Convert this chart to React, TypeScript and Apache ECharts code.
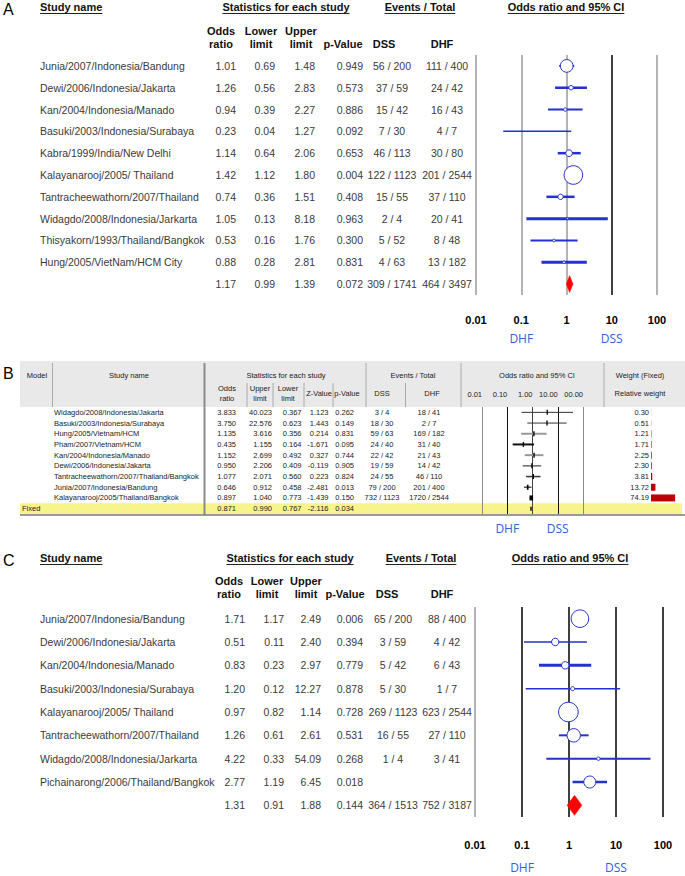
import React, { useEffect, useRef } from 'react';
import * as echarts from 'echarts';

// ================= Panel A data =================
const studiesA = [
  'Junia/2007/Indonesia/Bandung',
  'Dewi/2006/Indonesia/Jakarta',
  'Kan/2004/Indonesia/Manado',
  'Basuki/2003/Indonesia/Surabaya',
  'Kabra/1999/India/New Delhi',
  'Kalayanarooj/2005/ Thailand',
  'Tantracheewathorn/2007/Thailand',
  'Widagdo/2008/Indonesia/Jarkarta',
  'Thisyakorn/1993/Thailand/Bangkok',
  'Hung/2005/VietNam/HCM City',
];
const oddsA = [1.01, 1.26, 0.94, 0.23, 1.14, 1.42, 0.74, 1.05, 0.53, 0.88];
const lowerA = [0.69, 0.56, 0.39, 0.04, 0.64, 1.12, 0.36, 0.13, 0.16, 0.28];
const upperA = [1.48, 2.83, 2.27, 1.27, 2.06, 1.8, 1.51, 8.18, 1.76, 2.81];
const pValueA = [0.949, 0.573, 0.886, 0.092, 0.653, 0.004, 0.408, 0.963, 0.3, 0.831];
const dssA = ['56 / 200', '37 / 59', '15 / 42', '7 / 30', '46 / 113', '122 / 1123', '15 / 55', '2 / 4', '5 / 52', '4 / 63'];
const dhfA = ['111 / 400', '24 / 42', '16 / 43', '4 / 7', '30 / 80', '201 / 2544', '37 / 110', '20 / 41', '8 / 48', '13 / 182'];
// relative weights
const weightA = [25.4, 3.1, 1.8, 0.4, 7.0, 54.7, 4.6, 0.6, 1.1, 1.1];
const pooledA = [1.17, 0.99, 1.39, 0.072];
const pooledEventsA = ['309 / 1741', '464 / 3497'];

// ================= Panel B data =================
const studiesB = [
  'Widagdo/2008/Indonesia/Jakarta',
  'Basuki/2003/Indonesia/Surabaya',
  'Hung/2005/Vietnam/HCM',
  'Pham/2007/Vietnam/HCM',
  'Kan/2004/Indonesia/Manado',
  'Dewi/2006/Indonesia/Jakarta',
  'Tantracheewathorn/2007/Thailand/Bangkok',
  'Junia/2007/Indonesia/Bandung',
  'Kalayanarooj/2005/Thailand/Bangkok',
];
const oddsB = [3.833, 3.75, 1.135, 0.435, 1.152, 0.95, 1.077, 0.646, 0.897];
const upperB = [40.023, 22.576, 3.616, 1.155, 2.699, 2.206, 2.071, 0.912, 1.04];
const lowerB = [0.367, 0.623, 0.356, 0.164, 0.492, 0.409, 0.56, 0.458, 0.773];
const zValueB = [1.123, 1.443, 0.214, -1.671, 0.327, -0.119, 0.223, -2.481, -1.439];
const pValueB = [0.262, 0.149, 0.831, 0.095, 0.744, 0.905, 0.824, 0.013, 0.15];
const dssB = ['3 / 4', '18 / 30', '59 / 63', '24 / 40', '22 / 42', '19 / 59', '24 / 55', '79 / 200', '732 / 1123'];
const dhfB = ['18 / 41', '2 / 7', '169 / 182', '31 / 40', '21 / 43', '14 / 42', '46 / 110', '201 / 400', '1720 / 2544'];
const weightB = [0.3, 0.51, 1.21, 1.71, 2.25, 2.3, 3.81, 13.72, 74.19];
const fixedLabelB = 'Fixed';
const fixedB = [0.871, 0.99, 0.767, -2.116, 0.034]; // odds, upper, lower, z, p

// ================= Panel C data =================
const studiesC = [
  'Junia/2007/Indonesia/Bandung',
  'Dewi/2006/Indonesia/Jakarta',
  'Kan/2004/Indonesia/Manado',
  'Basuki/2003/Indonesia/Surabaya',
  'Kalayanarooj/2005/ Thailand',
  'Tantracheewathorn/2007/Thailand',
  'Widagdo/2008/Indonesia/Jarkarta',
  'Pichainarong/2006/Thailand/Bangkok',
];
const oddsC = [1.71, 0.51, 0.83, 1.2, 0.97, 1.26, 4.22, 2.77];
const lowerC = [1.17, 0.11, 0.23, 0.12, 0.82, 0.61, 0.33, 1.19];
const upperC = [2.49, 2.4, 2.97, 12.27, 1.14, 2.61, 54.09, 6.45];
const pValueC = [0.006, 0.394, 0.779, 0.878, 0.728, 0.531, 0.268, 0.018];
const dssC = ['65 / 200', '3 / 59', '5 / 42', '5 / 30', '269 / 1123', '16 / 55', '1 / 4', ''];
const dhfC = ['88 / 400', '4 / 42', '6 / 43', '1 / 7', '623 / 2544', '27 / 110', '3 / 41', ''];
const weightC = [26.7, 4.8, 4.8, 1.4, 33.3, 15.6, 1.0, 12.5];
const pooledC = [1.31, 0.91, 1.88, 0.144];
const pooledEventsC = ['364 / 1513', '752 / 3187'];

// ================= Labels =================
const tickLabelsAC = ['0.01', '0.1', '1', '10', '100'];
const tickLabelsB = ['0.01', '0.10', '1.00', '10.00', '00.00'];
const sideLabels = ['DHF', 'DSS'];
const headersAC = ['Study name', 'Statistics for each study', 'Events / Total', 'Odds ratio and 95% CI'];
const subHeadersAC = [['Odds', 'ratio'], ['Lower', 'limit'], ['Upper', 'limit'], ['', 'p-Value'], ['', 'DSS'], ['', 'DHF']];
const headersB = ['Model', 'Study name', 'Statistics for each study', 'Events / Total', 'Odds ratio and 95% CI', 'Weight (Fixed)'];
const subHeadersB = [['Odds', 'ratio'], ['Upper', 'limit'], ['Lower', 'limit'], ['', 'Z-Value'], ['', 'p-Value'], ['', 'DSS'], ['', 'DHF'], ['', 'Relative weight']];

// ================= Styles / layout =================
const FONT = '"Liberation Sans", Arial, Helvetica, sans-serif';
const SIDE_FONT = '"Open Sans", "Noto Sans", sans-serif';
const BODY_FONT = `10.5px ${FONT}`;
const CI_BLUE = '#2331cf';
const SIDE_BLUE = '#2f62dc';
const lineWidthA = [2, 2.5, 2, 1.5, 2.5, 2, 2.5, 3, 2, 3];
const lineWidthC = [2, 1.5, 3, 1.5, 2, 2, 2, 2.5];
const ciColorB = ['#333', '#333', '#999', '#111', '#999', '#666', '#333', '#555', '#444'];
const ciWidthB = [1, 1, 2, 2, 2, 1.5, 1.5, 1.5, 1.5];

type Cols = { name: number; odds: number; lower: number; upper: number; p: number; dss: number; dhf: number };
const colsA: Cols = { name: 40, odds: 236, lower: 275, upper: 315, p: 363, dss: 392, dhf: 447 };
const colsC: Cols = { name: 40, odds: 245, lower: 284, upper: 321, p: 363, dss: 393, dhf: 447 };

function measure(text: string, font: string): number {
  const ctx = document.createElement('canvas').getContext('2d');
  if (!ctx) return text.length * 6;
  ctx.font = font;
  return ctx.measureText(text).width;
}

interface ForestData {
  names: string[]; odds: number[]; lower: number[]; upper: number[]; p: number[];
  dss: string[]; dhf: string[]; weight: number[]; pooled: number[]; pooledEvents: string[];
}

function forestRender(d: ForestData, cols: Cols, rScale: number, lineW: number[], diamondHalf: number) {
  return (params: any, api: any) => {
    const i = params.dataIndex;
    const pooled = i === d.names.length;
    const o = pooled ? d.pooled[0] : d.odds[i];
    const lo = pooled ? d.pooled[1] : d.lower[i];
    const up = pooled ? d.pooled[2] : d.upper[i];
    const p = pooled ? d.pooled[3] : d.p[i];
    const dss = pooled ? d.pooledEvents[0] : d.dss[i];
    const dhf = pooled ? d.pooledEvents[1] : d.dhf[i];
    const pt = api.coord([o, i]);
    const xo = pt[0];
    const y = pt[1];
    const xl = api.coord([lo, i])[0];
    const xu = api.coord([up, i])[0];
    const children: any[] = [];
    if (pooled) {
      children.push({
        type: 'polygon',
        shape: { points: [[xl, y], [xo, y - diamondHalf], [xu, y], [xo, y + diamondHalf]] },
        style: { fill: '#ff0000', stroke: '#ff0000', lineWidth: 0.5 },
      });
    } else {
      children.push({ type: 'line', shape: { x1: xl, y1: y, x2: xu, y2: y }, style: { stroke: CI_BLUE, lineWidth: lineW[i] } });
      children.push({
        type: 'circle',
        shape: { cx: xo, cy: y, r: rScale * Math.sqrt(d.weight[i]) },
        style: { fill: '#ffffff', stroke: CI_BLUE, lineWidth: 1 },
      });
    }
    const t = (text: string, x: number, align: string) => ({
      type: 'text', x, y,
      style: { text, font: BODY_FONT, fill: '#3a3a3a', align, verticalAlign: 'middle' },
    });
    if (!pooled) children.push(t(d.names[i], cols.name, 'left'));
    children.push(t(o.toFixed(2), cols.odds, 'right'));
    children.push(t(lo.toFixed(2), cols.lower, 'right'));
    children.push(t(up.toFixed(2), cols.upper, 'right'));
    children.push(t(p.toFixed(3), cols.p, 'right'));
    if (dss) children.push(t(dss, cols.dss, 'center'));
    if (dhf) children.push(t(dhf, cols.dhf, 'center'));
    return { type: 'group', children };
  };
}

function forestHeader(label: string, yHead: number, ySub1: number, ySub2: number,
  headX: number[], subX: number[]): any[] {
  const els: any[] = [];
  els.push({ type: 'text', x: 3, y: yHead + 2, style: { text: label, font: `16px ${FONT}`, fill: '#000', align: 'left', verticalAlign: 'middle' } });
  const bold = `bold 11px ${FONT}`;
  headersAC.forEach((h, k) => {
    const w = measure(h, bold);
    const align = k === 0 ? 'left' : 'center';
    const x0 = k === 0 ? headX[k] : headX[k] - w / 2;
    els.push({ type: 'text', x: headX[k], y: yHead, style: { text: h, font: bold, fill: '#111', align, verticalAlign: 'middle' } });
    els.push({ type: 'line', shape: { x1: x0, y1: yHead + 6.5, x2: x0 + w, y2: yHead + 6.5 }, style: { stroke: '#222', lineWidth: 1 } });
  });
  subHeadersAC.forEach((pair, k) => {
    if (pair[0]) els.push({ type: 'text', x: subX[k], y: ySub1, style: { text: pair[0], font: bold, fill: '#111', align: 'center', verticalAlign: 'middle' } });
    els.push({ type: 'text', x: subX[k], y: ySub2, style: { text: pair[1], font: bold, fill: '#111', align: 'center', verticalAlign: 'middle' } });
  });
  return els;
}

function headerB(): any[] {
  const els: any[] = [];
  const f = `7.5px ${FONT}`;
  const top = 361;
  const bottom = 407;
  const mid = 383;
  els.push({ type: 'text', x: 3, y: 373, style: { text: 'B', font: `16px ${FONT}`, fill: '#000', align: 'left', verticalAlign: 'middle' } });
  els.push({ type: 'rect', shape: { x: 20, y: top, width: 665, height: bottom - top }, style: { fill: '#e9e9e9' }, z: -2 });
  [52.5, 366, 461, 604].forEach((x) => els.push({ type: 'line', shape: { x1: x, y1: top + 2, x2: x, y2: bottom }, style: { stroke: '#aaa', lineWidth: 1 } }));
  [247, 273, 304, 333, 405.5].forEach((x) => els.push({ type: 'line', shape: { x1: x, y1: mid, x2: x, y2: bottom }, style: { stroke: '#aaa', lineWidth: 1 } }));
  els.push({ type: 'line', shape: { x1: 204.5, y1: top + 2, x2: 204.5, y2: 515 }, style: { stroke: '#8a8a8a', lineWidth: 2 } });
  els.push({ type: 'line', shape: { x1: 20, y1: 515, x2: 685, y2: 515 }, style: { stroke: '#777', lineWidth: 1.5 } });
  const headX = [37, 129, 286, 413, 537, 640];
  headersB.forEach((h, k) => els.push({ type: 'text', x: headX[k], y: 375, style: { text: h, font: f, fill: '#222', align: 'center', verticalAlign: 'middle' } }));
  const subX = [227, 260, 288, 319, 347, 382, 432, 640];
  subHeadersB.forEach((pair, k) => {
    if (pair[0]) {
      els.push({ type: 'text', x: subX[k], y: 388, style: { text: pair[0], font: f, fill: '#222', align: 'center', verticalAlign: 'middle' } });
      els.push({ type: 'text', x: subX[k], y: 398, style: { text: pair[1], font: f, fill: '#222', align: 'center', verticalAlign: 'middle' } });
    } else {
      els.push({ type: 'text', x: subX[k], y: 393, style: { text: pair[1], font: f, fill: '#222', align: 'center', verticalAlign: 'middle' } });
    }
  });
  return els;
}

function renderB(params: any, api: any) {
  const i = params.dataIndex;
  const fixed = i === studiesB.length;
  const o = fixed ? fixedB[0] : oddsB[i];
  const up = fixed ? fixedB[1] : upperB[i];
  const lo = fixed ? fixedB[2] : lowerB[i];
  const z = fixed ? fixedB[3] : zValueB[i];
  const p = fixed ? fixedB[4] : pValueB[i];
  const pt = api.coord([o, i]);
  const xo = pt[0];
  const y = pt[1];
  const children: any[] = [];
  const f = `7.5px ${FONT}`;
  const t = (text: string, x: number, align: string) => ({
    type: 'text', x, y, style: { text, font: f, fill: '#222', align, verticalAlign: 'middle' },
  });
  if (!fixed) {
    const xl = api.coord([lo, i])[0];
    const xu = api.coord([up, i])[0];
    children.push({ type: 'line', shape: { x1: xl, y1: y, x2: xu, y2: y }, style: { stroke: ciColorB[i], lineWidth: ciWidthB[i] } });
    const w = 1.3 + weightB[i] * 0.03;
    children.push({ type: 'rect', shape: { x: xo - w / 2, y: y - 2.5, width: w, height: 5 }, style: { fill: '#000' } });
    children.push(t(studiesB[i], 54, 'left'));
    children.push(t(dssB[i], 382, 'center'));
    children.push(t(dhfB[i], 429, 'center'));
    children.push(t(weightB[i].toFixed(2), 649, 'right'));
  } else {
    children.push({ type: 'rect', shape: { x: xo - 0.7, y: y - 2, width: 1.4, height: 4 }, style: { fill: '#000' } });
    children.push(t(fixedLabelB, 22, 'left'));
  }
  children.push(t(o.toFixed(3), 236, 'right'));
  children.push(t(up.toFixed(3), 272, 'right'));
  children.push(t(lo.toFixed(3), 301.5, 'right'));
  children.push(t(z.toFixed(3), 328.5, 'right'));
  children.push(t(p.toFixed(3), 354, 'right'));
  return { type: 'group', children };
}

function renderBandB(params: any, api: any) {
  const y = api.coord([1, api.value(1)])[1];
  const h = api.size([0, 1])[1];
  return { type: 'rect', shape: { x: 20, y: y - h / 2, width: 662, height: h }, style: { fill: '#f8f48c' } };
}

const decadeIndex = (v: number) => Math.round(Math.log10(v)) + 2;

function logAxis(gridIndex: number, labels: string[], margin: number, colors: string[]) {
  return {
    type: 'log', logBase: 10, min: 0.01, max: 100, gridIndex, position: 'bottom',
    axisLine: { show: false }, axisTick: { show: false },
    axisLabel: {
      margin, fontFamily: FONT, fontSize: 11, fontWeight: 'bold', color: '#000',
      formatter: (v: number) => labels[decadeIndex(v)] ?? '',
    },
    splitLine: { show: true, lineStyle: { color: colors, width: 1.5 } },
  };
}

function sideAxis(gridIndex: number, margin: number) {
  return {
    type: 'log', logBase: 10, min: 0.01, max: 100, gridIndex, position: 'bottom',
    axisLine: { show: false }, axisTick: { show: false }, splitLine: { show: false },
    axisLabel: {
      margin, fontFamily: SIDE_FONT, fontSize: 12, color: SIDE_BLUE,
      formatter: (v: number) => {
        const k = Math.round(Math.log10(v));
        return k === -1 ? sideLabels[0] : k === 1 ? sideLabels[1] : '';
      },
    },
  };
}

const catAxis = (gridIndex: number, n: number) => ({
  type: 'category', gridIndex, inverse: true, show: false,
  data: Array.from({ length: n }, (_, i) => String(i)),
});

export default function App() {
  const ref = useRef<HTMLDivElement>(null);
  useEffect(() => {
    document.body.style.margin = '0';
    if (!ref.current) return;
    const chart = echarts.init(ref.current, undefined, { renderer: 'svg' });
    const dataA: ForestData = { names: studiesA, odds: oddsA, lower: lowerA, upper: upperA, p: pValueA, dss: dssA, dhf: dhfA, weight: weightA, pooled: pooledA, pooledEvents: pooledEventsA };
    const dataC: ForestData = { names: studiesC, odds: oddsC, lower: lowerC, upper: upperC, p: pValueC, dss: dssC, dhf: dhfC, weight: weightC, pooled: pooledC, pooledEvents: pooledEventsC };
    const rowsA = [...oddsA, pooledA[0]].map((o, i) => [o, i]);
    const rowsC = [...oddsC, pooledC[0]].map((o, i) => [o, i]);
    const rowsB = [...oddsB, fixedB[0]].map((o, i) => [o, i]);

    const option: any = {
      animation: false,
      backgroundColor: '#ffffff',
      grid: [
        { left: 476, width: 181, top: 55, height: 240 },
        { left: 482, width: 101, top: 407, height: 107 },
        { left: 651, width: 32.5, top: 407, height: 107 },
        { left: 475, width: 188, top: 607, height: 210 },
      ],
      xAxis: [
        logAxis(0, tickLabelsAC, 19, ['#9a9a9a', '#9a9a9a', '#9a9a9a', '#000', '#9a9a9a']),
        sideAxis(0, 37),
        {
          type: 'log', logBase: 10, min: 0.01, max: 100, gridIndex: 1, position: 'top',
          axisLine: { show: false }, axisTick: { show: false },
          axisLabel: {
            margin: 9, fontFamily: FONT, fontSize: 7.5, color: '#222', align: 'right',
            formatter: (v: number) => tickLabelsB[decadeIndex(v)] ?? '',
          },
          splitLine: { show: true, lineStyle: { color: ['#8a8a8a', '#111', '#444', '#111', '#8a8a8a'], width: 1 } },
        },
        sideAxis(1, 8),
        { type: 'value', gridIndex: 2, min: 0, max: 100, show: false },
        logAxis(3, tickLabelsAC, 22, ['#9a9a9a', '#000', '#000', '#000', '#000']),
        sideAxis(3, 44),
      ],
      yAxis: [
        catAxis(0, studiesA.length + 1),
        catAxis(1, studiesB.length + 1),
        catAxis(2, studiesB.length + 1),
        catAxis(3, studiesC.length + 1),
      ],
      series: [
        {
          type: 'custom', xAxisIndex: 0, yAxisIndex: 0, silent: true, clip: false,
          data: rowsA, renderItem: forestRender(dataA, colsA, 1.26, lineWidthA, 8.5),
        },
        {
          type: 'custom', xAxisIndex: 2, yAxisIndex: 1, silent: true, z: -1, clip: false,
          data: [[fixedB[0], studiesB.length]], renderItem: renderBandB,
        },
        {
          type: 'custom', xAxisIndex: 2, yAxisIndex: 1, silent: true, clip: false,
          data: rowsB, renderItem: renderB,
        },
        {
          type: 'bar', xAxisIndex: 4, yAxisIndex: 2, silent: true, barWidth: 7,
          itemStyle: { color: '#c00000' },
          data: [...weightB, '-'],
        },
        {
          type: 'custom', xAxisIndex: 5, yAxisIndex: 3, silent: true, clip: false,
          data: rowsC, renderItem: forestRender(dataC, colsC, 1.7, lineWidthC, 10),
        },
      ],
      graphic: [
        ...forestHeader('A', 7, 31, 43.5, [40, 286, 420, 566], [221, 261, 301, 343, 384, 442]),
        ...headerB(),
        ...forestHeader('C', 558, 581, 594, [40, 290, 421, 570], [229, 267, 306, 345, 387, 442]),
      ],
    };
    chart.setOption(option);
    return () => chart.dispose();
  }, []);
  return <div ref={ref} style={{ width: 685, height: 876 }} />;
}
